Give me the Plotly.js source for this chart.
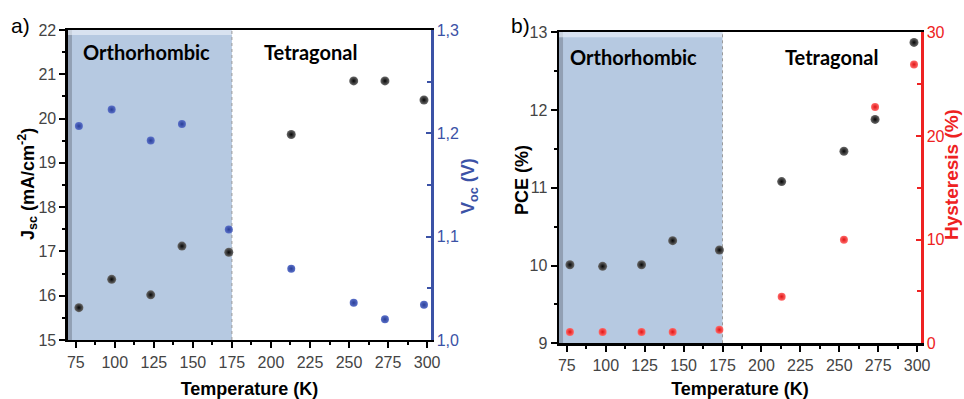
<!DOCTYPE html>
<html><head><meta charset="utf-8">
<script src="https://cdn.plot.ly/plotly-3.0.1.min.js"></script>
<style>html,body{margin:0;padding:0;background:#fff}#chart{width:964px;height:399px}</style>
</head><body><div id="chart"></div>
<script>
// ---- data ----
const temperature = [77, 98, 123, 143, 173, 213, 253, 273, 298];
const jsc = [15.73, 16.37, 16.02, 17.12, 16.98, 19.64, 20.85, 20.85, 20.42];
const voc = [1.207, 1.223, 1.193, 1.209, 1.107, 1.069, 1.036, 1.020, 1.034];
const pce = [10.01, 9.99, 10.01, 10.32, 10.20, 11.08, 11.47, 11.88, 12.87];
const hysteresis = [1.1, 1.1, 1.1, 1.1, 1.3, 4.5, 10.0, 22.8, 26.9];
const phaseBoundary = 175;
const xTickVals = [75, 100, 125, 150, 175, 200, 225, 250, 275, 300];
const vocTickVals = [1.0, 1.1, 1.2, 1.3];
const vocTickText = ['1,0', '1,1', '1,2', '1,3'];
const phaseLabels = ['Orthorhombic', 'Tetragonal'];

const FAM = 'Liberation Sans, Arial, sans-serif';
const BLUE = '#3b52a6', RED = '#ee2222', TICKF = {family: FAM, size: 16};
const blackMarker = {size: 9, color: '#6a6a6a', gradient: {type: 'radial', color: '#050505'}, line: {width: 0}};
const traces = [
  {x: temperature, y: jsc, xaxis: 'x', yaxis: 'y', mode: 'markers', marker: blackMarker, showlegend: false},
  {x: temperature, y: voc, xaxis: 'x', yaxis: 'y2', mode: 'markers', marker: {size: 8, color: '#5a70c8', gradient: {type: 'radial', color: '#2a3f98'}}, showlegend: false},
  {x: temperature, y: hysteresis, xaxis: 'x2', yaxis: 'y4', mode: 'markers', marker: {size: 8, color: '#ff6a6a', gradient: {type: 'radial', color: '#e01515'}}, showlegend: false},
  {x: temperature, y: pce, xaxis: 'x2', yaxis: 'y3', mode: 'markers', marker: blackMarker, showlegend: false}
];

const xCommon = {
  range: [70, 302.5], tickvals: xTickVals, ticks: 'outside', ticklen: 6, tickwidth: 2, tickcolor: '#000',
  minor: {dtick: 12.5, tick0: 75, ticks: 'outside', ticklen: 3, tickwidth: 2, tickcolor: '#000'},
  showline: true, linewidth: 2.5, linecolor: '#000', mirror: true, showgrid: false, zeroline: false,
  tickfont: TICKF,
  title: {text: '<b>Temperature (K)</b>', font: {family: FAM, size: 18, color: '#000'}, standoff: 16}
};
const yLeftCommon = {
  ticks: 'outside', ticklen: 6, tickwidth: 2, tickcolor: '#000', showline: true, linewidth: 2.5, linecolor: '#000',
  showgrid: false, zeroline: false, tickfont: TICKF
};

function phaseShapes(xref, yref) {
  return [
    {type: 'rect', xref: xref, yref: yref + ' domain', x0: 70, x1: phaseBoundary, y0: 0, y1: 1, fillcolor: '#b6c9e1', line: {width: 0}, layer: 'below'},
    {type: 'rect', xref: xref, yref: yref + ' domain', xsizemode: 'pixel', xanchor: 70, x0: 0, x1: 4, y0: 0, y1: 1, fillcolor: '#6e7888', opacity: 0.5, line: {width: 0}, layer: 'below'},
    {type: 'rect', xref: xref, yref: yref + ' domain', x0: 70, x1: phaseBoundary, ysizemode: 'pixel', yanchor: 1, y0: -5, y1: 0, fillcolor: '#eef3fa', opacity: 0.6, line: {width: 0}, layer: 'below'},
    {type: 'line', xref: xref, yref: yref + ' domain', x0: phaseBoundary, x1: phaseBoundary, y0: 0, y1: 1, line: {color: '#9a9a9a', width: 1, dash: 'dot'}, layer: 'below'}
  ];
}

function px(xPix) { return xPix / 964; }
function py(yPix) { return (399 - yPix) / 399; }
function yTitle(text, xPix, yPix, size, color) {
  return {text: text, xref: 'paper', yref: 'paper', x: px(xPix), y: py(yPix), xanchor: 'center', yanchor: 'middle',
    textangle: -90, showarrow: false, font: {family: FAM, size: size, color: color}};
}

const labelFont = {family: 'Lato, Carlito, sans-serif', size: 20, color: '#000'};
const layout = {
  width: 964, height: 399, margin: {l: 0, r: 0, t: 0, b: 0},
  paper_bgcolor: '#fff', plot_bgcolor: 'rgba(0,0,0,0)',
  xaxis: Object.assign({}, xCommon, {domain: [0.0705, 0.4471], anchor: 'y'}),
  yaxis: Object.assign({}, yLeftCommon, {domain: [0.1479, 0.9248], anchor: 'x', range: [15, 22], dtick: 1,
    minor: {dtick: 0.5, ticks: 'outside', ticklen: 3, tickwidth: 2, tickcolor: '#000'}}),
  yaxis2: {overlaying: 'y', side: 'right', anchor: 'x', range: [1.0, 1.3], tickvals: vocTickVals, ticktext: vocTickText,
    ticks: 'inside', ticklen: 5, tickwidth: 2, tickcolor: BLUE, showline: true, linewidth: 2.5, linecolor: BLUE,
    minor: {dtick: 0.05, ticks: 'inside', ticklen: 4, tickwidth: 2, tickcolor: BLUE},
    showgrid: false, zeroline: false, tickfont: Object.assign({}, TICKF, {color: BLUE})},
  xaxis2: Object.assign({}, xCommon, {domain: [0.5799, 0.9554], anchor: 'y3'}),
  yaxis3: Object.assign({}, yLeftCommon, {domain: [0.1396, 0.9190], anchor: 'x2', range: [9, 13], dtick: 1,
    minor: {dtick: 0.5, ticks: 'outside', ticklen: 3, tickwidth: 2, tickcolor: '#000'}}),
  yaxis4: {overlaying: 'y3', side: 'right', anchor: 'x2', range: [0, 30], dtick: 10,
    ticks: 'inside', ticklen: 5, tickwidth: 2, tickcolor: RED, showline: true, linewidth: 2.5, linecolor: RED,
    minor: {dtick: 5, ticks: 'inside', ticklen: 4, tickwidth: 2, tickcolor: RED},
    showgrid: false, zeroline: false, tickfont: Object.assign({}, TICKF, {color: RED})},
  shapes: [].concat(phaseShapes('x', 'y'), phaseShapes('x2', 'y3')),
  annotations: [
    {text: '<b>' + phaseLabels[0] + '</b>', xref: 'x', yref: 'y domain', x: 120, y: 0.93, yanchor: 'middle', showarrow: false, font: labelFont},
    {text: '<b>' + phaseLabels[1] + '</b>', xref: 'x', yref: 'y domain', x: 225.6, y: 0.93, yanchor: 'middle', showarrow: false, font: labelFont},
    {text: '<b>' + phaseLabels[0] + '</b>', xref: 'x2', yref: 'y3 domain', x: 117.8, y: 0.92, yanchor: 'middle', showarrow: false, font: labelFont},
    {text: '<b>' + phaseLabels[1] + '</b>', xref: 'x2', yref: 'y3 domain', x: 244.7, y: 0.92, yanchor: 'middle', showarrow: false, font: labelFont},
    {text: 'a)', xref: 'paper', yref: 'paper', x: px(9), xanchor: 'left', y: py(25), yanchor: 'middle', showarrow: false, font: {family: FAM, size: 21, color: '#000'}},
    {text: 'b)', xref: 'paper', yref: 'paper', x: px(509), xanchor: 'left', y: py(25), yanchor: 'middle', showarrow: false, font: {family: FAM, size: 21, color: '#000'}},
    yTitle('<b>J<sub>sc</sub> (mA/cm<sup>-2</sup>)</b>', 27, 184, 18, '#000'),
    yTitle('<b>V<sub>oc</sub> (V)</b>', 469, 186, 18, BLUE),
    yTitle('<b>PCE (%)</b>', 522, 180, 18, '#000'),
    yTitle('<b>Hysteresis (%)</b>', 951, 175, 19, RED)
  ]
};
Plotly.newPlot('chart', traces, layout, {displayModeBar: false, staticPlot: true});
</script></body></html>
